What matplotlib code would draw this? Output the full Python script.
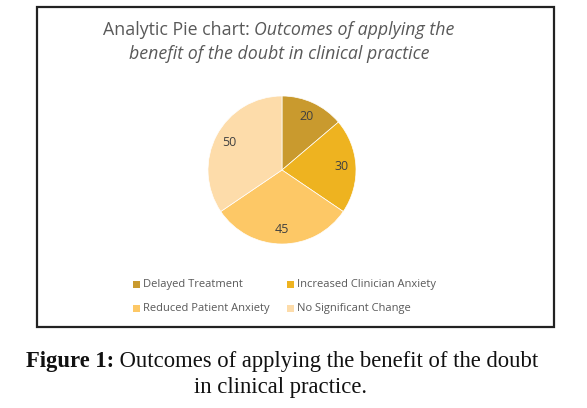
import matplotlib
matplotlib.use("Agg")
import matplotlib.pyplot as plt
from matplotlib.patches import Rectangle
import numpy as np

categories = ["Delayed Treatment", "Increased Clinician Anxiety",
              "Reduced Patient Anxiety", "No Significant Change"]
values = [20, 30, 45, 50]
colors = ["#C99A2E", "#EEB320", "#FDC866", "#FDDCAA"]

W, H = 587, 408
fig = plt.figure(figsize=(W/100, H/100), dpi=100)
fig.patch.set_facecolor("white")

def fx(x): return x / W
def fy(y): return 1 - y / H

# Border box
fig.add_artist(Rectangle((fx(37), fy(327)), fx(554) - fx(37), fy(7) - fy(327),
                         transform=fig.transFigure, fill=False,
                         edgecolor="#222222", linewidth=1.6))

tfont = ["Open Sans", "DejaVu Sans"]
r = fig.canvas.get_renderer()
# Title
tsize = 12.8
t1a = "Analytic Pie chart: "
t1b = "Outcomes of applying the"
ta = fig.text(0, 0, t1a, fontsize=tsize, family=tfont, color="#595959")
tb = fig.text(0, 0, t1b, fontsize=tsize, family=tfont, color="#595959", style="italic")
wa = ta.get_window_extent(r).width
wb = tb.get_window_extent(r).width
x0 = 279 - (wa + wb) / 2
ta.set_position((fx(x0), fy(30))); ta.set_va("center")
tb.set_position((fx(x0 + wa), fy(30))); tb.set_va("center")
fig.text(fx(279), fy(54), "benefit of the doubt in clinical practice", fontsize=tsize,
         family=tfont, color="#595959", style="italic", ha="center", va="center")

# Pie
cx, cy, rad = 282, 170, 74
ax = fig.add_axes([fx(cx - rad), fy(cy + rad), 2 * rad / W, 2 * rad / H])
wedges, _ = ax.pie(values, colors=colors, startangle=90, counterclock=False,
                   wedgeprops=dict(linewidth=0.5, edgecolor="white"))
ax.set_aspect("auto")
ax.set_xlim(-1, 1); ax.set_ylim(-1, 1)
for w, v in zip(wedges, values):
    ang = np.deg2rad((w.theta1 + w.theta2) / 2)
    ax.text(0.8 * np.cos(ang), 0.8 * np.sin(ang), str(v), ha="center", va="center",
            fontsize=9, color="#404040", family=tfont)

# Legend
pos = [(136, 284), (290, 284), (136, 308), (290, 308)]
for (lx, ly), c, lab in zip(pos, colors, categories):
    fig.add_artist(Rectangle((fx(lx - 3.5), fy(ly + 3.5)), 7 / W, 7 / H,
                             transform=fig.transFigure, facecolor=c, edgecolor="none"))
    fig.text(fx(lx + 7), fy(ly), lab, fontsize=8, family=tfont, color="#595959",
             va="center", ha="left")

# Caption
sfont = ["Liberation Serif", "DejaVu Serif"]
csize = 16.3
c1 = fig.text(0, 0, "Figure 1:", fontsize=csize, family=sfont, weight="bold", color="#111111")
c2 = fig.text(0, 0, " Outcomes of applying the benefit of the doubt", fontsize=csize,
              family=sfont, color="#111111")
w1 = c1.get_window_extent(r).width
w2 = c2.get_window_extent(r).width
x0 = 282 - (w1 + w2) / 2
c1.set_position((fx(x0), fy(362))); c1.set_va("center")
c2.set_position((fx(x0 + w1), fy(362))); c2.set_va("center")
fig.text(fx(281), fy(388), "in clinical practice.", fontsize=csize, family=sfont,
         color="#111111", ha="center", va="center")

fig.savefig("out.png", dpi=100)
